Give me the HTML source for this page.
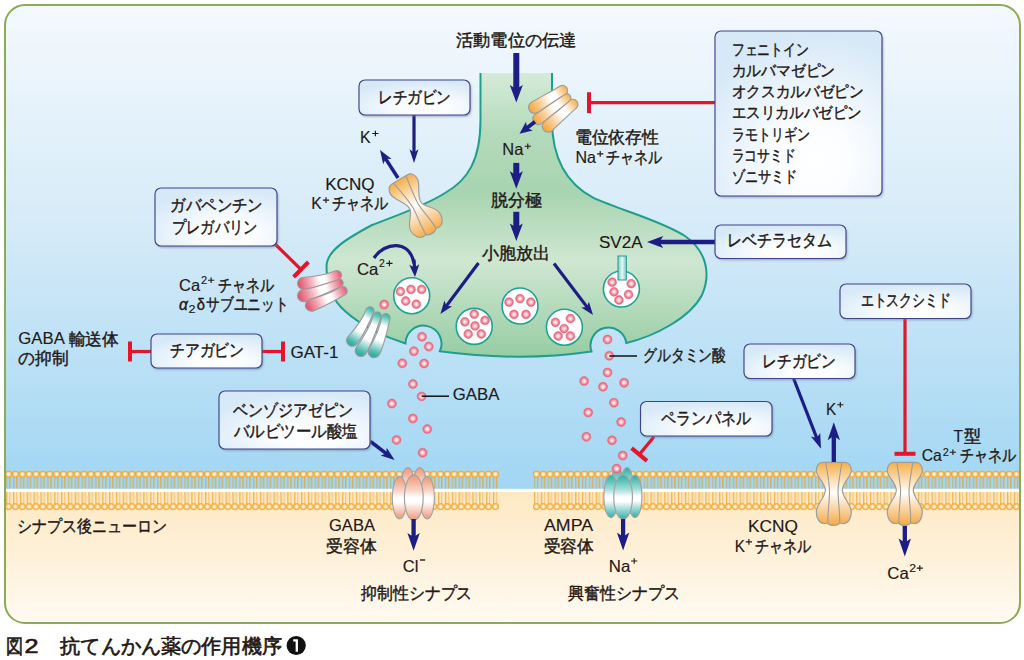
<!DOCTYPE html>
<html lang="ja"><head><meta charset="utf-8"><title>fig</title>
<style>
html,body{margin:0;padding:0;background:#ffffff;width:1024px;height:660px;overflow:hidden}
svg{display:block}
text{font-family:"Liberation Sans",sans-serif;fill:#231815;stroke:#231815;stroke-width:0.42px}
</style></head><body>
<svg width="1024" height="660" viewBox="0 0 1024 660">
<defs>
<linearGradient id="gBlue" x1="0" y1="5" x2="0" y2="489" gradientUnits="userSpaceOnUse">
 <stop offset="0" stop-color="#f4f9fd"/><stop offset="0.45" stop-color="#d6ebf8"/><stop offset="1" stop-color="#a1d6f3"/></linearGradient>
<linearGradient id="gCream" x1="0" y1="490" x2="0" y2="623" gradientUnits="userSpaceOnUse">
 <stop offset="0" stop-color="#fde8c2"/><stop offset="1" stop-color="#fffaf2"/></linearGradient>
<linearGradient id="gGreen" x1="0" y1="73" x2="0" y2="358" gradientUnits="userSpaceOnUse">
 <stop offset="0" stop-color="#d5ebd8"/><stop offset="0.22" stop-color="#b3dabb"/><stop offset="0.42" stop-color="#a8d4b0"/><stop offset="0.66" stop-color="#cfe7d2"/><stop offset="1" stop-color="#96cca1"/></linearGradient>
<radialGradient id="gBox" cx="0.6" cy="0.78" r="0.75" fx="0.6" fy="0.78">
 <stop offset="0" stop-color="#ffffff"/><stop offset="0.3" stop-color="#fbfdff"/><stop offset="1" stop-color="#d7e9f7"/></radialGradient>
<radialGradient id="gDot" cx="0.5" cy="0.5" r="0.5">
 <stop offset="0" stop-color="#ffffff"/><stop offset="0.32" stop-color="#fbd0d7"/><stop offset="1" stop-color="#e74b65"/></radialGradient>
<radialGradient id="gHead" cx="0.5" cy="0.5" r="0.5">
 <stop offset="0" stop-color="#ffffff"/><stop offset="0.45" stop-color="#fde2ae"/><stop offset="1" stop-color="#f7b04a"/></radialGradient>
<linearGradient id="gOrH" x1="0" y1="0" x2="1" y2="0">
 <stop offset="0" stop-color="#f4a43a"/><stop offset="0.42" stop-color="#ffffff"/><stop offset="0.62" stop-color="#ffffff"/><stop offset="1" stop-color="#f4a43a"/></linearGradient>
<linearGradient id="gPkH" x1="0" y1="0" x2="1" y2="0">
 <stop offset="0" stop-color="#e5566b"/><stop offset="0.42" stop-color="#ffffff"/><stop offset="0.62" stop-color="#ffffff"/><stop offset="1" stop-color="#e5566b"/></linearGradient>
<linearGradient id="gTlH" x1="0" y1="0" x2="1" y2="0">
 <stop offset="0" stop-color="#25aea5"/><stop offset="0.42" stop-color="#ffffff"/><stop offset="0.62" stop-color="#ffffff"/><stop offset="1" stop-color="#25aea5"/></linearGradient>
<linearGradient id="gOrV" x1="0" y1="0" x2="0" y2="1">
 <stop offset="0" stop-color="#f6ae48"/><stop offset="0.48" stop-color="#ffffff"/><stop offset="1" stop-color="#f5a843"/></linearGradient>
<linearGradient id="gSalV" x1="0" y1="0" x2="0" y2="1">
 <stop offset="0" stop-color="#ee9676"/><stop offset="0.33" stop-color="#f8d2c4"/><stop offset="0.5" stop-color="#ffffff"/><stop offset="0.6" stop-color="#ffffff"/><stop offset="1" stop-color="#ee9676"/></linearGradient>
<linearGradient id="gTlV" x1="0" y1="0" x2="0" y2="1">
 <stop offset="0" stop-color="#27aea4"/><stop offset="0.33" stop-color="#a5ddd8"/><stop offset="0.5" stop-color="#ffffff"/><stop offset="0.6" stop-color="#ffffff"/><stop offset="1" stop-color="#2aafa5"/></linearGradient>
<linearGradient id="gSV" x1="0" y1="0" x2="1" y2="0">
 <stop offset="0" stop-color="#7cc9c2"/><stop offset="0.5" stop-color="#e8f6f5"/><stop offset="1" stop-color="#7cc9c2"/></linearGradient>
<filter id="blur" x="-10%" y="-10%" width="120%" height="120%"><feGaussianBlur stdDeviation="1"/></filter>
<clipPath id="fr"><rect x="5" y="5" width="1015" height="618" rx="20"/></clipPath>
<pattern id="memL" x="5.172" y="0" width="6.856" height="660" patternUnits="userSpaceOnUse">
<line x1="1.73" y1="476" x2="1.73" y2="488.6" stroke="#d0a64e" stroke-width="1" opacity="0.85"/>
<line x1="4.73" y1="476" x2="4.73" y2="488.6" stroke="#f09c14" stroke-width="1"/>
<line x1="1.73" y1="492" x2="1.73" y2="505" stroke="#f0a020" stroke-width="1"/>
<line x1="4.73" y1="492" x2="4.73" y2="505" stroke="#f4b04a" stroke-width="1" opacity="0.8"/>
<circle cx="3.428" cy="474.2" r="3.15" fill="url(#gHead)" stroke="#f2a024" stroke-width="0.8"/>
<circle cx="3.428" cy="506.6" r="3.15" fill="url(#gHead)" stroke="#f2a024" stroke-width="0.8"/>
</pattern><pattern id="memR" x="532.972" y="0" width="6.856" height="660" patternUnits="userSpaceOnUse">
<line x1="1.73" y1="476" x2="1.73" y2="488.6" stroke="#d0a64e" stroke-width="1" opacity="0.85"/>
<line x1="4.73" y1="476" x2="4.73" y2="488.6" stroke="#f09c14" stroke-width="1"/>
<line x1="1.73" y1="492" x2="1.73" y2="505" stroke="#f0a020" stroke-width="1"/>
<line x1="4.73" y1="492" x2="4.73" y2="505" stroke="#f4b04a" stroke-width="1" opacity="0.8"/>
<circle cx="3.428" cy="474.2" r="3.15" fill="url(#gHead)" stroke="#f2a024" stroke-width="0.8"/>
<circle cx="3.428" cy="506.6" r="3.15" fill="url(#gHead)" stroke="#f2a024" stroke-width="0.8"/>
</pattern></defs>
<g clip-path="url(#fr)">
<rect x="0" y="0" width="1024" height="490" fill="url(#gBlue)"/>
<rect x="0" y="490" width="1024" height="140" fill="url(#gCream)"/>
<rect x="0" y="488.8" width="1024" height="3.2" fill="#ffffff"/>
<rect x="5" y="470" width="494" height="41" fill="url(#memL)"/>
<rect x="533" y="470" width="487" height="41" fill="url(#memR)"/>
</g>
<rect x="5" y="5" width="1015" height="618" rx="20" fill="none" stroke="#8cab55" stroke-width="2"/>
<path d="M 480.5 73 L 480.5 120 C 480.5 160 468 180 445 193 C 425 206 395 216 372 225 C 348 238 327 250 326.5 266 C 326.5 282 331 299 345 311 C 360 325 385 337 405.5 343.5 A 18 18 0 1 1 439.8 351.3 Q 520 362 591.5 351.5 A 18 18 0 1 1 626.3 343 C 655 336 690 318 702 295 C 712 272 705 250 685 236 C 660 220 620 210 593.5 197.9 C 565 183 552 155 552 120 L 552 73 Z" fill="url(#gGreen)"/>
<path d="M 480.5 73 L 480.5 120 C 480.5 160 468 180 445 193 C 425 206 395 216 372 225 C 348 238 327 250 326.5 266 C 326.5 282 331 299 345 311 C 360 325 385 337 405.5 343.5 A 18 18 0 1 1 439.8 351.3 Q 520 362 591.5 351.5 A 18 18 0 1 1 626.3 343 C 655 336 690 318 702 295 C 712 272 705 250 685 236 C 660 220 620 210 593.5 197.9 C 565 183 552 155 552 120 L 552 73" fill="none" stroke="#1f9e8e" stroke-width="2"/>
<circle cx="411.7" cy="295.7" r="18" fill="#fff" stroke="#21a393" stroke-width="1.6"/>
<circle cx="400.4" cy="291.5" r="4.4" fill="url(#gDot)" stroke="#e4788a" stroke-width="0.6"/>
<circle cx="411.0" cy="289.4" r="4.4" fill="url(#gDot)" stroke="#e4788a" stroke-width="0.6"/>
<circle cx="421.6" cy="289.4" r="4.4" fill="url(#gDot)" stroke="#e4788a" stroke-width="0.6"/>
<circle cx="405.7" cy="301.0" r="4.4" fill="url(#gDot)" stroke="#e4788a" stroke-width="0.6"/>
<circle cx="416.3" cy="304.2" r="4.4" fill="url(#gDot)" stroke="#e4788a" stroke-width="0.6"/>
<circle cx="474.2" cy="326.4" r="18" fill="#fff" stroke="#21a393" stroke-width="1.6"/>
<circle cx="474.2" cy="314.1" r="4.4" fill="url(#gDot)" stroke="#e4788a" stroke-width="0.6"/>
<circle cx="464.9" cy="321.8" r="4.4" fill="url(#gDot)" stroke="#e4788a" stroke-width="0.6"/>
<circle cx="485.0" cy="320.4" r="4.4" fill="url(#gDot)" stroke="#e4788a" stroke-width="0.6"/>
<circle cx="475.0" cy="325.9" r="4.4" fill="url(#gDot)" stroke="#e4788a" stroke-width="0.6"/>
<circle cx="468.2" cy="334.0" r="4.4" fill="url(#gDot)" stroke="#e4788a" stroke-width="0.6"/>
<circle cx="481.3" cy="334.0" r="4.4" fill="url(#gDot)" stroke="#e4788a" stroke-width="0.6"/>
<circle cx="520" cy="306" r="18" fill="#fff" stroke="#21a393" stroke-width="1.6"/>
<circle cx="509.0" cy="302.1" r="4.4" fill="url(#gDot)" stroke="#e4788a" stroke-width="0.6"/>
<circle cx="520.0" cy="298.6" r="4.4" fill="url(#gDot)" stroke="#e4788a" stroke-width="0.6"/>
<circle cx="530.9" cy="302.1" r="4.4" fill="url(#gDot)" stroke="#e4788a" stroke-width="0.6"/>
<circle cx="514.0" cy="314.4" r="4.4" fill="url(#gDot)" stroke="#e4788a" stroke-width="0.6"/>
<circle cx="526.0" cy="314.4" r="4.4" fill="url(#gDot)" stroke="#e4788a" stroke-width="0.6"/>
<circle cx="564.4" cy="327.2" r="18" fill="#fff" stroke="#21a393" stroke-width="1.6"/>
<circle cx="570.4" cy="318.5" r="4.4" fill="url(#gDot)" stroke="#e4788a" stroke-width="0.6"/>
<circle cx="555.4" cy="322.3" r="4.4" fill="url(#gDot)" stroke="#e4788a" stroke-width="0.6"/>
<circle cx="564.1" cy="328.6" r="4.4" fill="url(#gDot)" stroke="#e4788a" stroke-width="0.6"/>
<circle cx="558.1" cy="336.0" r="4.4" fill="url(#gDot)" stroke="#e4788a" stroke-width="0.6"/>
<circle cx="570.4" cy="336.0" r="4.4" fill="url(#gDot)" stroke="#e4788a" stroke-width="0.6"/>
<circle cx="621.4" cy="289" r="18" fill="#fff" stroke="#21a393" stroke-width="1.6"/>
<circle cx="612.1" cy="282.2" r="4.4" fill="url(#gDot)" stroke="#e4788a" stroke-width="0.6"/>
<circle cx="631.2" cy="283.6" r="4.4" fill="url(#gDot)" stroke="#e4788a" stroke-width="0.6"/>
<circle cx="614.0" cy="291.8" r="4.4" fill="url(#gDot)" stroke="#e4788a" stroke-width="0.6"/>
<circle cx="628.5" cy="294.5" r="4.4" fill="url(#gDot)" stroke="#e4788a" stroke-width="0.6"/>
<circle cx="618.9" cy="300.0" r="4.4" fill="url(#gDot)" stroke="#e4788a" stroke-width="0.6"/>
<rect x="618" y="256" width="8.3" height="24" fill="url(#gSV)" stroke="#1f9e8e" stroke-width="1"/>
<circle cx="384.2" cy="304.5" r="4.5" fill="url(#gDot)" stroke="#e4788a" stroke-width="0.6"/>
<circle cx="422.0" cy="336.8" r="4.5" fill="url(#gDot)" stroke="#e4788a" stroke-width="0.6"/>
<circle cx="428.8" cy="346.6" r="4.5" fill="url(#gDot)" stroke="#e4788a" stroke-width="0.6"/>
<circle cx="413.9" cy="351.2" r="4.5" fill="url(#gDot)" stroke="#e4788a" stroke-width="0.6"/>
<circle cx="402.3" cy="363.3" r="4.5" fill="url(#gDot)" stroke="#e4788a" stroke-width="0.6"/>
<circle cx="424.1" cy="363.5" r="4.5" fill="url(#gDot)" stroke="#e4788a" stroke-width="0.6"/>
<circle cx="412.9" cy="384.1" r="4.5" fill="url(#gDot)" stroke="#e4788a" stroke-width="0.6"/>
<circle cx="421.6" cy="396.4" r="4.5" fill="url(#gDot)" stroke="#e4788a" stroke-width="0.6"/>
<circle cx="391.9" cy="403.6" r="4.5" fill="url(#gDot)" stroke="#e4788a" stroke-width="0.6"/>
<circle cx="412.9" cy="418.5" r="4.5" fill="url(#gDot)" stroke="#e4788a" stroke-width="0.6"/>
<circle cx="427.3" cy="429.1" r="4.5" fill="url(#gDot)" stroke="#e4788a" stroke-width="0.6"/>
<circle cx="396.5" cy="439.9" r="4.5" fill="url(#gDot)" stroke="#e4788a" stroke-width="0.6"/>
<circle cx="422.6" cy="452.7" r="4.5" fill="url(#gDot)" stroke="#e4788a" stroke-width="0.6"/>
<circle cx="607.5" cy="339.5" r="4.5" fill="url(#gDot)" stroke="#e4788a" stroke-width="0.6"/>
<circle cx="609.3" cy="355.7" r="4.5" fill="url(#gDot)" stroke="#e4788a" stroke-width="0.6"/>
<circle cx="607.5" cy="372.5" r="4.5" fill="url(#gDot)" stroke="#e4788a" stroke-width="0.6"/>
<circle cx="584.1" cy="381.1" r="4.5" fill="url(#gDot)" stroke="#e4788a" stroke-width="0.6"/>
<circle cx="603.0" cy="386.8" r="4.5" fill="url(#gDot)" stroke="#e4788a" stroke-width="0.6"/>
<circle cx="624.1" cy="382.7" r="4.5" fill="url(#gDot)" stroke="#e4788a" stroke-width="0.6"/>
<circle cx="613.9" cy="402.7" r="4.5" fill="url(#gDot)" stroke="#e4788a" stroke-width="0.6"/>
<circle cx="588.2" cy="412.5" r="4.5" fill="url(#gDot)" stroke="#e4788a" stroke-width="0.6"/>
<circle cx="621.1" cy="422.0" r="4.5" fill="url(#gDot)" stroke="#e4788a" stroke-width="0.6"/>
<circle cx="586.4" cy="436.8" r="4.5" fill="url(#gDot)" stroke="#e4788a" stroke-width="0.6"/>
<circle cx="612.0" cy="440.2" r="4.5" fill="url(#gDot)" stroke="#e4788a" stroke-width="0.6"/>
<circle cx="622.7" cy="455.5" r="4.5" fill="url(#gDot)" stroke="#e4788a" stroke-width="0.6"/>
<line x1="421.6" y1="396.2" x2="449" y2="396.2" stroke="#111" stroke-width="1.5"/>
<line x1="609.3" y1="356" x2="637" y2="356" stroke="#111" stroke-width="1.5"/>
<linearGradient id="tg1" gradientUnits="userSpaceOnUse" x1="533.7" y1="122.4" x2="570.1" y2="95.5"><stop offset="0" stop-color="#f4a23a"/><stop offset="0.25" stop-color="#f9c88a"/><stop offset="0.55" stop-color="#ffffff"/><stop offset="0.68" stop-color="#ffffff"/><stop offset="1" stop-color="#f6ab4a"/></linearGradient><path d="M 541.53 123.60 C 550.76 116.39 559.56 108.62 569.14 101.90 A 4.6 4.6 0 0 0 563.66 94.50 C 554.44 101.71 544.44 107.88 534.87 114.60 A 5.6 5.6 0 0 0 541.53 123.60 Z" fill="url(#tg1)" stroke="#9a9a9a" stroke-width="1.1"/>
<linearGradient id="tg2" gradientUnits="userSpaceOnUse" x1="529.4" y1="110.4" x2="567.0" y2="87.7"><stop offset="0" stop-color="#f4a23a"/><stop offset="0.25" stop-color="#f9c88a"/><stop offset="0.55" stop-color="#ffffff"/><stop offset="0.68" stop-color="#ffffff"/><stop offset="1" stop-color="#f6ab4a"/></linearGradient><path d="M 537.60 112.44 C 546.84 106.51 555.73 99.99 565.28 94.58 A 5.0 5.0 0 0 0 560.12 86.02 C 550.87 91.94 540.96 96.75 531.40 102.16 A 6.0 6.0 0 0 0 537.60 112.44 Z" fill="url(#tg2)" stroke="#9a9a9a" stroke-width="1.1"/>
<linearGradient id="tg3" gradientUnits="userSpaceOnUse" x1="543.7" y1="130.2" x2="576.7" y2="101.0"><stop offset="0" stop-color="#f4a23a"/><stop offset="0.25" stop-color="#f9c88a"/><stop offset="0.55" stop-color="#ffffff"/><stop offset="0.68" stop-color="#ffffff"/><stop offset="1" stop-color="#f6ab4a"/></linearGradient><path d="M 552.17 130.70 C 560.24 123.17 567.84 115.12 576.31 108.05 A 5.0 5.0 0 0 0 569.69 100.55 C 561.62 108.08 552.69 114.63 544.23 121.70 A 6.0 6.0 0 0 0 552.17 130.70 Z" fill="url(#tg3)" stroke="#9a9a9a" stroke-width="1.1"/>
<g transform="translate(416,206.5) rotate(-31) scale(1.0)"><path d="M -9.00 -31.70 C -13.00 -31.70 -15.50 -28.00 -15.50 -23.50 C -15.50 -17.00 -7.00 -10.00 -6.50 -2.00 C -6.00 5.00 -17.00 10.00 -17.00 18.00 C -17.00 25.00 -13.50 29.50 -9.00 29.50 C -7.50 29.50 -6.50 28.80 -5.80 29.30 C -4.00 32.00 4.00 32.00 5.50 29.30 C 6.50 28.80 7.50 29.50 9.00 29.50 C 13.50 29.50 17.00 25.00 17.00 18.00 C 17.00 10.00 6.00 5.00 6.50 -2.00 C 7.00 -10.00 15.50 -17.00 15.50 -23.50 C 15.50 -28.00 13.00 -31.70 9.00 -31.70 Z" fill="url(#gOrV)" stroke="#9d9d9d" stroke-width="1.2"/><path d="M -7.13 -31.50 C -5.58 -20.00 -3.25 -10.00 -3.25 -1.00 C -3.25 8.00 -6.50 20.00 -5.80 29.30 M 7.13 -31.50 C 5.58 -20.00 3.25 -10.00 3.25 -1.00 C 3.25 8.00 6.50 20.00 5.80 29.30" fill="none" stroke="#9d9d9d" stroke-width="1.1"/></g>
<linearGradient id="tg4" gradientUnits="userSpaceOnUse" x1="297.9" y1="297.7" x2="342.8" y2="281.6"><stop offset="0" stop-color="#e34b66"/><stop offset="0.25" stop-color="#f19fad"/><stop offset="0.5" stop-color="#ffffff"/><stop offset="0.62" stop-color="#ffffff"/><stop offset="1" stop-color="#e4566e"/></linearGradient><path d="M 305.53 301.35 C 317.43 297.71 328.62 292.10 340.12 287.34 A 4.5 4.5 0 0 0 337.08 278.86 C 325.99 284.76 313.78 287.55 301.47 290.05 A 6.0 6.0 0 0 0 305.53 301.35 Z" fill="url(#tg4)" stroke="#9a9a9a" stroke-width="1.1"/>
<linearGradient id="tg5" gradientUnits="userSpaceOnUse" x1="297.7" y1="284.8" x2="341.4" y2="274.1"><stop offset="0" stop-color="#e34b66"/><stop offset="0.25" stop-color="#f19fad"/><stop offset="0.5" stop-color="#ffffff"/><stop offset="0.62" stop-color="#ffffff"/><stop offset="1" stop-color="#e4566e"/></linearGradient><path d="M 304.93 289.23 C 316.21 287.08 327.01 282.98 338.00 279.67 A 4.6 4.6 0 0 0 335.80 270.73 C 325.10 275.21 313.63 276.59 302.07 277.57 A 6.0 6.0 0 0 0 304.93 289.23 Z" fill="url(#tg5)" stroke="#9a9a9a" stroke-width="1.1"/>
<linearGradient id="tg6" gradientUnits="userSpaceOnUse" x1="305.9" y1="307.7" x2="346.9" y2="289.0"><stop offset="0" stop-color="#e34b66"/><stop offset="0.25" stop-color="#f19fad"/><stop offset="0.5" stop-color="#ffffff"/><stop offset="0.62" stop-color="#ffffff"/><stop offset="1" stop-color="#e4566e"/></linearGradient><path d="M 313.89 310.66 C 324.58 306.44 334.43 300.40 344.61 295.08 A 4.6 4.6 0 0 0 340.79 286.72 C 331.10 293.12 320.09 296.61 308.91 299.74 A 6.0 6.0 0 0 0 313.89 310.66 Z" fill="url(#tg6)" stroke="#9a9a9a" stroke-width="1.1"/>
<linearGradient id="tg7" gradientUnits="userSpaceOnUse" x1="358.4" y1="356.2" x2="379.0" y2="312.3"><stop offset="0" stop-color="#1fa89e"/><stop offset="0.12" stop-color="#4dbab1"/><stop offset="0.4" stop-color="#ffffff"/><stop offset="0.72" stop-color="#ffffff"/><stop offset="0.9" stop-color="#6cc8c0"/><stop offset="1" stop-color="#2cb0a6"/></linearGradient><path d="M 366.15 353.36 C 372.71 342.20 376.54 329.77 380.92 317.60 A 4.0 4.0 0 0 0 373.68 314.20 C 370.38 326.89 363.29 337.79 355.65 348.44 A 5.8 5.8 0 0 0 366.15 353.36 Z" fill="url(#tg7)" stroke="#9a9a9a" stroke-width="1.1"/>
<linearGradient id="tg8" gradientUnits="userSpaceOnUse" x1="349.3" y1="345.5" x2="372.2" y2="307.3"><stop offset="0" stop-color="#1fa89e"/><stop offset="0.12" stop-color="#4dbab1"/><stop offset="0.4" stop-color="#ffffff"/><stop offset="0.72" stop-color="#ffffff"/><stop offset="0.9" stop-color="#6cc8c0"/><stop offset="1" stop-color="#2cb0a6"/></linearGradient><path d="M 357.28 343.48 C 364.21 334.23 368.73 323.54 373.60 313.06 A 4.2 4.2 0 0 0 366.40 308.74 C 362.56 319.84 355.28 328.89 347.32 337.52 A 5.8 5.8 0 0 0 357.28 343.48 Z" fill="url(#tg8)" stroke="#9a9a9a" stroke-width="1.1"/>
<linearGradient id="tg9" gradientUnits="userSpaceOnUse" x1="372.1" y1="357.5" x2="387.3" y2="313.6"><stop offset="0" stop-color="#1fa89e"/><stop offset="0.12" stop-color="#4dbab1"/><stop offset="0.4" stop-color="#ffffff"/><stop offset="0.72" stop-color="#ffffff"/><stop offset="0.9" stop-color="#6cc8c0"/><stop offset="1" stop-color="#2cb0a6"/></linearGradient><path d="M 379.77 353.76 C 384.84 342.79 387.16 330.87 389.96 319.11 A 4.3 4.3 0 0 0 381.84 316.29 C 380.17 328.45 374.63 339.26 368.43 349.84 A 6.0 6.0 0 0 0 379.77 353.76 Z" fill="url(#tg9)" stroke="#9a9a9a" stroke-width="1.1"/>
<g transform="translate(413.8,497.6)"><ellipse cx="-6" cy="-9" rx="7" ry="21" fill="url(#gSalV)" stroke="#a3a3a3" stroke-width="1.2"/><ellipse cx="6" cy="-9" rx="7" ry="21" fill="url(#gSalV)" stroke="#a3a3a3" stroke-width="1.2"/><ellipse cx="-14.3" cy="0" rx="7.2" ry="21.2" fill="url(#gSalV)" stroke="#a3a3a3" stroke-width="1.2"/><ellipse cx="13.4" cy="0" rx="7.2" ry="21.2" fill="url(#gSalV)" stroke="#a3a3a3" stroke-width="1.2"/><ellipse cx="0" cy="0" rx="9.4" ry="22.8" fill="url(#gSalV)" stroke="#a3a3a3" stroke-width="1.2"/></g>
<g transform="translate(623.1,497)"><ellipse cx="-6" cy="-8" rx="6.5" ry="21.5" fill="url(#gTlV)" stroke="#a3a3a3" stroke-width="1.2"/><ellipse cx="4" cy="-8" rx="6.5" ry="21.5" fill="url(#gTlV)" stroke="#a3a3a3" stroke-width="1.2"/><ellipse cx="-12.1" cy="-0.7" rx="7.2" ry="21.2" fill="url(#gTlV)" stroke="#a3a3a3" stroke-width="1.2"/><ellipse cx="11.9" cy="-0.7" rx="7" ry="21.2" fill="url(#gTlV)" stroke="#a3a3a3" stroke-width="1.2"/><ellipse cx="0" cy="0" rx="9.4" ry="22.2" fill="url(#gTlV)" stroke="#a3a3a3" stroke-width="1.2"/></g>
<circle cx="616.6" cy="468.6" r="4.5" fill="url(#gDot)" stroke="#e4788a" stroke-width="0.6"/>
<g transform="translate(833.8,494) rotate(0) scale(1.0)"><path d="M -11.00 -31.70 C -15.00 -31.70 -17.50 -28.00 -17.50 -23.50 C -17.50 -17.00 -9.00 -12.00 -8.50 -4.00 C -8.00 3.00 -17.50 10.00 -17.50 18.00 C -17.50 25.00 -14.00 29.50 -9.50 29.50 C -7.50 29.50 -6.50 28.80 -5.80 29.30 C -4.00 32.00 4.00 32.00 5.50 29.30 C 6.50 28.80 7.50 29.50 9.50 29.50 C 14.00 29.50 17.50 25.00 17.50 18.00 C 17.50 10.00 8.00 3.00 8.50 -4.00 C 9.00 -12.00 17.50 -17.00 17.50 -23.50 C 17.50 -28.00 15.00 -31.70 11.00 -31.70 Z" fill="url(#gOrV)" stroke="#9d9d9d" stroke-width="1.2"/><path d="M -8.05 -31.50 C -6.30 -20.00 -4.25 -10.00 -4.25 -3.00 C -4.25 8.00 -6.50 20.00 -5.80 29.30 M 8.05 -31.50 C 6.30 -20.00 4.25 -10.00 4.25 -3.00 C 4.25 8.00 6.50 20.00 5.80 29.30" fill="none" stroke="#9d9d9d" stroke-width="1.1"/></g>
<g transform="translate(904.8,494) rotate(0) scale(1.0)"><path d="M -11.00 -31.70 C -15.00 -31.70 -17.50 -28.00 -17.50 -23.50 C -17.50 -17.00 -9.00 -12.00 -8.50 -4.00 C -8.00 3.00 -17.50 10.00 -17.50 18.00 C -17.50 25.00 -14.00 29.50 -9.50 29.50 C -7.50 29.50 -6.50 28.80 -5.80 29.30 C -4.00 32.00 4.00 32.00 5.50 29.30 C 6.50 28.80 7.50 29.50 9.50 29.50 C 14.00 29.50 17.50 25.00 17.50 18.00 C 17.50 10.00 8.00 3.00 8.50 -4.00 C 9.00 -12.00 17.50 -17.00 17.50 -23.50 C 17.50 -28.00 15.00 -31.70 11.00 -31.70 Z" fill="url(#gOrV)" stroke="#9d9d9d" stroke-width="1.2"/><path d="M -8.05 -31.50 C -6.30 -20.00 -4.25 -10.00 -4.25 -3.00 C -4.25 8.00 -6.50 20.00 -5.80 29.30 M 8.05 -31.50 C 6.30 -20.00 4.25 -10.00 4.25 -3.00 C 4.25 8.00 6.50 20.00 5.80 29.30" fill="none" stroke="#9d9d9d" stroke-width="1.1"/></g>
<line x1="516.3" y1="53.0" x2="516.3" y2="89.5" stroke="#1c1d85" stroke-width="6"/><polygon points="516.3,102.5 509.8,85.0 516.3,89.0 522.8,85.0" fill="#1c1d85"/>
<line x1="516.3" y1="162.9" x2="516.3" y2="175.8" stroke="#1c1d85" stroke-width="6"/><polygon points="516.3,188.8 509.8,171.3 516.3,175.3 522.8,171.3" fill="#1c1d85"/>
<line x1="516.3" y1="211.8" x2="516.3" y2="228.0" stroke="#1c1d85" stroke-width="6"/><polygon points="516.3,241.0 509.8,223.5 516.3,227.5 522.8,223.5" fill="#1c1d85"/>
<line x1="535.0" y1="121.8" x2="526.6" y2="128.3" stroke="#1c1d85" stroke-width="3.8"/><polygon points="519.5,133.8 526.0,121.8 527.0,128.0 532.8,130.5" fill="#1c1d85"/>
<line x1="414.0" y1="115.0" x2="414.0" y2="153.0" stroke="#1c1d85" stroke-width="3.2"/><polygon points="414.0,163.0 409.5,149.2 414.0,152.5 418.5,149.2" fill="#1c1d85"/>
<line x1="398.0" y1="178.0" x2="385.4" y2="158.4" stroke="#1c1d85" stroke-width="3.5"/><polygon points="380.0,150.0 391.6,158.9 385.7,158.8 383.2,164.3" fill="#1c1d85"/>
<line x1="478.5" y1="263.0" x2="446.1" y2="306.4" stroke="#1c1d85" stroke-width="3.2"/><polygon points="440.4,314.0 444.4,300.6 446.4,306.0 452.1,306.3" fill="#1c1d85"/>
<line x1="554.0" y1="263.5" x2="587.3" y2="307.4" stroke="#1c1d85" stroke-width="3.2"/><polygon points="593.0,315.0 581.3,307.4 587.0,307.0 588.9,301.7" fill="#1c1d85"/>
<path d="M 374 258 C 385 241.5 410 239.5 414 263.5" fill="none" stroke="#1c1d85" stroke-width="3.2"/>
<line x1="414.0" y1="259.5" x2="414.5" y2="268.0" stroke="#1c1d85" stroke-width="3.2"/><polygon points="415.0,277.0 409.3,264.8 414.5,267.5 419.3,264.2" fill="#1c1d85"/>
<line x1="715.0" y1="242.0" x2="659.0" y2="242.0" stroke="#1c1d85" stroke-width="4.5"/><polygon points="647.0,242.0 663.2,236.0 659.5,242.0 663.2,248.0" fill="#1c1d85"/>
<line x1="370.5" y1="441.5" x2="386.7" y2="453.9" stroke="#1c1d85" stroke-width="3.5"/><polygon points="394.6,460.0 380.6,455.6 386.3,453.6 386.7,447.7" fill="#1c1d85"/>
<line x1="413.6" y1="519.0" x2="413.6" y2="537.5" stroke="#1c1d85" stroke-width="4.3"/><polygon points="413.6,550.8 407.4,532.9 413.6,537.0 419.8,532.9" fill="#1c1d85"/>
<line x1="623.1" y1="519.0" x2="623.1" y2="537.2" stroke="#1c1d85" stroke-width="4.3"/><polygon points="623.1,550.5 616.9,532.6 623.1,536.7 629.3,532.6" fill="#1c1d85"/>
<line x1="833.8" y1="462.0" x2="833.8" y2="435.6" stroke="#1c1d85" stroke-width="4.3"/><polygon points="833.8,422.3 840.0,440.2 833.8,436.1 827.6,440.2" fill="#1c1d85"/>
<line x1="904.8" y1="526.0" x2="904.8" y2="543.1" stroke="#1c1d85" stroke-width="4.3"/><polygon points="904.8,556.4 898.6,538.5 904.8,542.6 911.0,538.5" fill="#1c1d85"/>
<line x1="793.6" y1="378.5" x2="817.0" y2="438.6" stroke="#1c1d85" stroke-width="3.2"/><polygon points="821.0,448.8 810.9,436.6 816.8,438.1 820.2,433.0" fill="#1c1d85"/>
<line x1="715.0" y1="102.7" x2="589.0" y2="102.7" stroke="#e4152b" stroke-width="3.2"/>
<line x1="589.0" y1="92.2" x2="589.0" y2="113.2" stroke="#e4152b" stroke-width="4.0"/>
<line x1="275.0" y1="244.0" x2="301.0" y2="269.5" stroke="#e4152b" stroke-width="3.2"/>
<line x1="293.6" y1="277.0" x2="308.4" y2="262.0" stroke="#e4152b" stroke-width="4.0"/>
<line x1="151.0" y1="351.5" x2="130.0" y2="351.5" stroke="#e4152b" stroke-width="3.2"/>
<line x1="130.0" y1="341.5" x2="130.0" y2="361.5" stroke="#e4152b" stroke-width="4.0"/>
<line x1="262.0" y1="351.5" x2="283.0" y2="351.5" stroke="#e4152b" stroke-width="3.2"/>
<line x1="283.0" y1="361.5" x2="283.0" y2="341.5" stroke="#e4152b" stroke-width="4.0"/>
<line x1="905.0" y1="318.0" x2="905.0" y2="453.8" stroke="#e4152b" stroke-width="3.2"/>
<line x1="894.5" y1="453.8" x2="915.5" y2="453.8" stroke="#e4152b" stroke-width="4.0"/>
<line x1="654.0" y1="436.8" x2="639.3" y2="454.5" stroke="#e4152b" stroke-width="3.2"/>
<line x1="631.6" y1="448.1" x2="647.0" y2="460.9" stroke="#e4152b" stroke-width="4.0"/>
<rect x="360.3" y="81.8" width="111" height="35" rx="6" fill="#6e7b92" opacity="0.55" filter="url(#blur)"/>
<rect x="359" y="80" width="111" height="35" rx="6" fill="url(#gBox)" stroke="#3f418f" stroke-width="1.15"/>
<rect x="156.3" y="189.8" width="122" height="58" rx="6" fill="#6e7b92" opacity="0.55" filter="url(#blur)"/>
<rect x="155" y="188" width="122" height="58" rx="6" fill="url(#gBox)" stroke="#3f418f" stroke-width="1.15"/>
<rect x="716.3" y="32.8" width="167" height="165" rx="6" fill="#6e7b92" opacity="0.55" filter="url(#blur)"/>
<rect x="715" y="31" width="167" height="165" rx="6" fill="url(#gBox)" stroke="#3f418f" stroke-width="1.15"/>
<rect x="716.3" y="226.8" width="131" height="33.5" rx="6" fill="#6e7b92" opacity="0.55" filter="url(#blur)"/>
<rect x="715" y="225" width="131" height="33.5" rx="6" fill="url(#gBox)" stroke="#3f418f" stroke-width="1.15"/>
<rect x="841.3" y="285.8" width="131" height="34.5" rx="6" fill="#6e7b92" opacity="0.55" filter="url(#blur)"/>
<rect x="840" y="284" width="131" height="34.5" rx="6" fill="url(#gBox)" stroke="#3f418f" stroke-width="1.15"/>
<rect x="745.3" y="345.8" width="111" height="34.5" rx="6" fill="#6e7b92" opacity="0.55" filter="url(#blur)"/>
<rect x="744" y="344" width="111" height="34.5" rx="6" fill="url(#gBox)" stroke="#3f418f" stroke-width="1.15"/>
<rect x="152.3" y="335.8" width="111" height="34" rx="6" fill="#6e7b92" opacity="0.55" filter="url(#blur)"/>
<rect x="151" y="334" width="111" height="34" rx="6" fill="url(#gBox)" stroke="#3f418f" stroke-width="1.15"/>
<rect x="220.3" y="392.8" width="151" height="58" rx="6" fill="#6e7b92" opacity="0.55" filter="url(#blur)"/>
<rect x="219" y="391" width="151" height="58" rx="6" fill="url(#gBox)" stroke="#3f418f" stroke-width="1.15"/>
<rect x="641.8" y="403.3" width="131.5" height="34.5" rx="6" fill="#6e7b92" opacity="0.55" filter="url(#blur)"/>
<rect x="640.5" y="401.5" width="131.5" height="34.5" rx="6" fill="url(#gBox)" stroke="#3f418f" stroke-width="1.15"/>
<text x="456" y="46" font-size="16.5" textLength="120.5" lengthAdjust="spacingAndGlyphs">活動電位の伝達</text>
<text x="378" y="103" font-size="16.5" textLength="73" lengthAdjust="spacingAndGlyphs">レチガビン</text>
<text x="360.1" y="143" font-size="16.5" textLength="10.6" lengthAdjust="spacingAndGlyphs" style="stroke-width:0.15px">K</text>
<path d="M 372.30 133.50 H 378.50 M 375.40 130.70 V 136.30" stroke="#231815" stroke-width="1.15" fill="none"/>
<text x="325.2" y="189.8" font-size="16.5" textLength="49.3" lengthAdjust="spacingAndGlyphs" style="stroke-width:0.15px">KCNQ</text>
<text x="311.2" y="209.3" font-size="16.5" textLength="10.5" lengthAdjust="spacingAndGlyphs" style="stroke-width:0.15px">K</text>
<path d="M 322.90 200.10 H 329.10 M 326.00 197.30 V 202.90" stroke="#231815" stroke-width="1.15" fill="none"/>
<text x="331.8" y="209.3" font-size="16.5" textLength="56.2" lengthAdjust="spacingAndGlyphs">チャネル</text>
<text x="170.2" y="211" font-size="16.5" textLength="92.7" lengthAdjust="spacingAndGlyphs">ガバペンチン</text>
<text x="171.7" y="232.5" font-size="16.5" textLength="86" lengthAdjust="spacingAndGlyphs">プレガバリン</text>
<text x="179.1" y="290.5" font-size="16.5" textLength="21.1" lengthAdjust="spacingAndGlyphs" style="stroke-width:0.15px">Ca</text>
<text x="201.1" y="283.7" font-size="11.3" textLength="6.2" lengthAdjust="spacingAndGlyphs" style="stroke-width:0.15px">2</text>
<path d="M 208.00 280.20 H 214.20 M 211.10 277.40 V 283.00" stroke="#231815" stroke-width="1.15" fill="none"/>
<text x="217.8" y="290.5" font-size="16.5" textLength="56.1" lengthAdjust="spacingAndGlyphs">チャネル</text>
<text x="178.9" y="309.8" font-size="16.5" textLength="8.9" lengthAdjust="spacingAndGlyphs" font-style="italic">α</text>
<text x="188.5" y="312.6" font-size="11.3" textLength="7.0" lengthAdjust="spacingAndGlyphs" style="stroke-width:0.15px">2</text>
<text x="196.7" y="309.8" font-size="16.5" textLength="8.2" lengthAdjust="spacingAndGlyphs">δ</text>
<text x="206.2" y="309.8" font-size="16.5" textLength="82.1" lengthAdjust="spacingAndGlyphs">サブユニット</text>
<text x="356.9" y="274.7" font-size="16.5" textLength="21.4" lengthAdjust="spacingAndGlyphs" style="stroke-width:0.15px">Ca</text>
<text x="379" y="267.4" font-size="11.3" textLength="5.8" lengthAdjust="spacingAndGlyphs" style="stroke-width:0.15px">2</text>
<path d="M 386.30 263.40 H 392.50 M 389.40 260.60 V 266.20" stroke="#231815" stroke-width="1.15" fill="none"/>
<text x="502.3" y="154.5" font-size="16.5" textLength="21" lengthAdjust="spacingAndGlyphs" style="stroke-width:0.15px">Na</text>
<path d="M 524.70 146.20 H 530.90 M 527.80 143.40 V 149.00" stroke="#231815" stroke-width="1.15" fill="none"/>
<text x="516" y="206" font-size="16.5" text-anchor="middle">脱分極</text>
<text x="516" y="259" font-size="16.5" text-anchor="middle">小胞放出</text>
<text x="574.7" y="143.3" font-size="16.5" textLength="84.5" lengthAdjust="spacingAndGlyphs">電位依存性</text>
<text x="575.4" y="162.6" font-size="16.5" textLength="20.5" lengthAdjust="spacingAndGlyphs" style="stroke-width:0.15px">Na</text>
<path d="M 597.10 153.90 H 603.30 M 600.20 151.10 V 156.70" stroke="#231815" stroke-width="1.15" fill="none"/>
<text x="606.1" y="162.6" font-size="16.5" textLength="56.2" lengthAdjust="spacingAndGlyphs">チャネル</text>
<text x="599" y="248" font-size="16.5" textLength="43.6" lengthAdjust="spacingAndGlyphs" style="stroke-width:0.15px">SV2A</text>
<text x="731.7" y="54.5" font-size="15.5" textLength="77" lengthAdjust="spacingAndGlyphs">フェニトイン</text>
<text x="731.7" y="75.8" font-size="15.5" textLength="103.6" lengthAdjust="spacingAndGlyphs">カルバマゼピン</text>
<text x="731.7" y="97.1" font-size="15.5" textLength="131.8" lengthAdjust="spacingAndGlyphs">オクスカルバゼピン</text>
<text x="731.7" y="118.4" font-size="15.5" textLength="130" lengthAdjust="spacingAndGlyphs">エスリカルバゼピン</text>
<text x="731.7" y="139.7" font-size="15.5" textLength="78" lengthAdjust="spacingAndGlyphs">ラモトリギン</text>
<text x="731.7" y="161" font-size="15.5" textLength="64" lengthAdjust="spacingAndGlyphs">ラコサミド</text>
<text x="731.7" y="182.3" font-size="15.5" textLength="66" lengthAdjust="spacingAndGlyphs">ゾニサミド</text>
<text x="726.8" y="246" font-size="16.5" textLength="104.9" lengthAdjust="spacingAndGlyphs">レベチラセタム</text>
<text x="860.6" y="306.4" font-size="16.5" textLength="90.6" lengthAdjust="spacingAndGlyphs">エトスクシミド</text>
<text x="762.1" y="366.5" font-size="16.5" textLength="73.7" lengthAdjust="spacingAndGlyphs">レチガビン</text>
<text x="826.1" y="414.7" font-size="16.5" textLength="10.2" lengthAdjust="spacingAndGlyphs" style="stroke-width:0.15px">K</text>
<path d="M 837.20 404.70 H 843.40 M 840.30 401.90 V 407.50" stroke="#231815" stroke-width="1.15" fill="none"/>
<text x="953.5" y="442" font-size="16.5" textLength="9.5" lengthAdjust="spacingAndGlyphs" style="stroke-width:0.15px">T</text>
<text x="963.5" y="442" font-size="16.5" textLength="17.2" lengthAdjust="spacingAndGlyphs">型</text>
<text x="921.7" y="461.4" font-size="16.5" textLength="20.2" lengthAdjust="spacingAndGlyphs" style="stroke-width:0.15px">Ca</text>
<text x="942.7" y="455.8" font-size="11.3" textLength="6.1" lengthAdjust="spacingAndGlyphs" style="stroke-width:0.15px">2</text>
<path d="M 949.80 452.20 H 956.00 M 952.90 449.40 V 455.00" stroke="#231815" stroke-width="1.15" fill="none"/>
<text x="959.6" y="461.4" font-size="16.5" textLength="56.4" lengthAdjust="spacingAndGlyphs">チャネル</text>
<text x="18.3" y="344.3" font-size="16.5" textLength="46.5" lengthAdjust="spacingAndGlyphs" style="stroke-width:0.15px">GABA</text>
<text x="68.5" y="345" font-size="16.5" textLength="50.3" lengthAdjust="spacingAndGlyphs">輸送体</text>
<text x="18.3" y="363.7" font-size="16.5" textLength="50.2" lengthAdjust="spacingAndGlyphs">の抑制</text>
<text x="170" y="355.7" font-size="16.5" textLength="74.1" lengthAdjust="spacingAndGlyphs">チアガビン</text>
<text x="290.4" y="357.5" font-size="16.5" textLength="48" lengthAdjust="spacingAndGlyphs" style="stroke-width:0.15px">GAT-1</text>
<text x="452.8" y="399.6" font-size="16.5" textLength="46.6" lengthAdjust="spacingAndGlyphs" style="stroke-width:0.15px">GABA</text>
<text x="232.7" y="415.5" font-size="16.5" textLength="120.1" lengthAdjust="spacingAndGlyphs">ベンゾジアゼピン</text>
<text x="233.7" y="436.6" font-size="16.5" textLength="123.8" lengthAdjust="spacingAndGlyphs">バルビツール酸塩</text>
<text x="643" y="361" font-size="16.5" textLength="83" lengthAdjust="spacingAndGlyphs">グルタミン酸</text>
<text x="661" y="424" font-size="16.5" textLength="90" lengthAdjust="spacingAndGlyphs">ペランパネル</text>
<text x="17.1" y="531.5" font-size="16.5" textLength="150.1" lengthAdjust="spacingAndGlyphs">シナプス後ニューロン</text>
<text x="329" y="531" font-size="16.5" textLength="46" lengthAdjust="spacingAndGlyphs" style="stroke-width:0.15px">GABA</text>
<text x="326" y="551.5" font-size="16.5" textLength="51" lengthAdjust="spacingAndGlyphs">受容体</text>
<text x="402.8" y="571.5" font-size="16.5" style="stroke-width:0.15px">Cl</text>
<line x1="420" y1="560" x2="425.2" y2="560" stroke="#231815" stroke-width="1.4"/>
<text x="361" y="598.5" font-size="16.5" textLength="111.3" lengthAdjust="spacingAndGlyphs">抑制性シナプス</text>
<text x="544" y="531" font-size="16.5" textLength="49" lengthAdjust="spacingAndGlyphs" style="stroke-width:0.15px">AMPA</text>
<text x="543.5" y="552" font-size="16.5" textLength="50.5" lengthAdjust="spacingAndGlyphs">受容体</text>
<text x="608.8" y="571.9" font-size="16.5" textLength="21.5" lengthAdjust="spacingAndGlyphs" style="stroke-width:0.15px">Na</text>
<path d="M 631.10 561.00 H 637.30 M 634.20 558.20 V 563.80" stroke="#231815" stroke-width="1.15" fill="none"/>
<text x="568" y="598.5" font-size="16.5" textLength="112" lengthAdjust="spacingAndGlyphs">興奮性シナプス</text>
<text x="748" y="531.6" font-size="16.5" textLength="49.8" lengthAdjust="spacingAndGlyphs" style="stroke-width:0.15px">KCNQ</text>
<text x="734.8" y="551.6" font-size="16.5" textLength="10.2" lengthAdjust="spacingAndGlyphs" style="stroke-width:0.15px">K</text>
<path d="M 745.80 541.90 H 752.00 M 748.90 539.10 V 544.70" stroke="#231815" stroke-width="1.15" fill="none"/>
<text x="754.8" y="551.6" font-size="16.5" textLength="56.6" lengthAdjust="spacingAndGlyphs">チャネル</text>
<text x="887.3" y="578.8" font-size="16.5" textLength="21.5" lengthAdjust="spacingAndGlyphs" style="stroke-width:0.15px">Ca</text>
<text x="909.3" y="572" font-size="11.3" textLength="6.8" lengthAdjust="spacingAndGlyphs" style="stroke-width:0.15px">2</text>
<path d="M 916.70 568.10 H 922.90 M 919.80 565.30 V 570.90" stroke="#231815" stroke-width="1.15" fill="none"/>
<text x="5.5" y="653" font-size="20" textLength="17.2" lengthAdjust="spacingAndGlyphs" style="stroke-width:0.65px">図</text>
<text x="24.6" y="653" font-size="20.5" textLength="14" lengthAdjust="spacingAndGlyphs" style="stroke-width:0.65px">2</text>
<text x="60.2" y="653" font-size="20" textLength="221.8" lengthAdjust="spacingAndGlyphs" style="stroke-width:0.65px">抗てんかん薬の作用機序</text>
<circle cx="296.2" cy="645.5" r="9.6" fill="#111"/>
<path d="M 293.2 640.4 L 296.8 640.4 L 296.8 651.8" fill="none" stroke="#fff" stroke-width="2.3"/>
</svg>
</body></html>
